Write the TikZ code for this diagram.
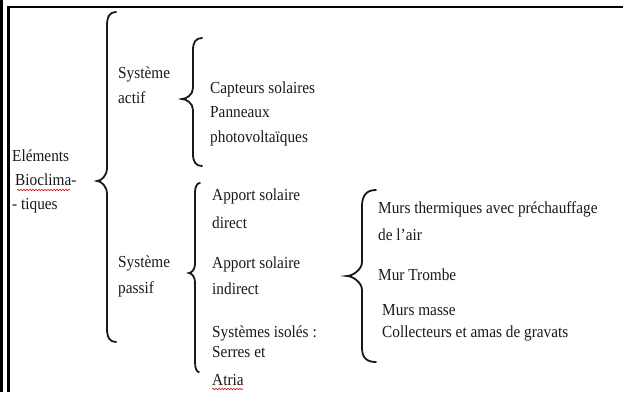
\documentclass[tikz,border=0pt]{standalone}
\usepackage{fontspec}
\setmainfont{Liberation Serif}
\usetikzlibrary{decorations.pathmorphing}
\begin{document}
\begin{tikzpicture}[x=1pt,y=-1pt,
  lbl/.style={anchor=base west, inner sep=0pt, yscale=1.1, transform shape, text=black!90, font=\fontsize{15.3}{18}\selectfont},
  bracepath/.style={line width=1.8pt, line cap=round, black!90},
  spell/.style={red!85!black, line width=0.6pt, decorate, decoration={snake, amplitude=0.7pt, segment length=3pt}}]
\useasboundingbox (0,0) rectangle (623,392);
% frame
\fill[black] (0,0) rectangle (2.8,392);
\draw[line width=2.6pt] (8.6,392) -- (8.6,7) -- (623,7);
% level 0
\node[lbl] (e1) at (12,161) {Eléments};
\node[lbl] (e2) at (15,185) {Bioclima-};
\node[lbl] (e3) at (12,209) {- tiques};
\draw[spell] (17,190) -- (70,190);
% brace 1
\draw[bracepath] (116,12) .. controls (110,12) and (107,16) .. (107,26) -- (107,168)
  .. controls (107,176) and (101,181) .. (97,181) .. controls (101,181) and (107,186) .. (107,194)
  -- (107,328) .. controls (107,338) and (110,342) .. (116,342);
% level 1
\node[lbl] (sa1) at (118,78) {Système};
\node[lbl] (sa2) at (118,103) {actif};
\node[lbl] (sp1) at (118,267) {Système};
\node[lbl] (sp2) at (118,293) {passif};
% brace 2
\draw[bracepath] (202,38) .. controls (196,38) and (193,42) .. (193,50) -- (193,88)
  .. controls (193,95) and (186,99) .. (182,99) .. controls (186,99) and (193,103) .. (193,110)
  -- (193,154) .. controls (193,162) and (196,166) .. (202,166);
% brace 3
\draw[bracepath] (200,183) .. controls (197,183) and (195,186) .. (195,194) -- (195,264)
  .. controls (195,270) and (191,273) .. (189,273) .. controls (191,273) and (195,276) .. (195,282)
  -- (195,362) .. controls (195,369) and (197,372) .. (199,372);
% level 2
\node[lbl] (c1) at (210,93) {Capteurs solaires};
\node[lbl] (c2) at (210,117) {Panneaux};
\node[lbl] (c3) at (210,142) {photovoltaïques};
\node[lbl] (p1) at (212,200) {Apport solaire};
\node[lbl] (p2) at (212,228) {direct};
\node[lbl] (p3) at (212,268) {Apport solaire};
\node[lbl] (p4) at (212,294) {indirect};
\node[lbl] (p5) at (212,337) {Systèmes isolés :};
\node[lbl] (p6) at (212,357) {Serres et};
\node[lbl] (p7) at (212,385) {Atria};
\draw[spell] (212,389) -- (243,389);
% brace 4
\draw[bracepath] (376,190) .. controls (367,190) and (362,195) .. (362,206) -- (362,262)
  .. controls (362,270) and (352,276) .. (347,276) .. controls (352,276) and (362,282) .. (362,290)
  -- (362,348) .. controls (362,358) and (367,362) .. (376,362);
% level 3
\node[lbl] (m1) at (378,213) {Murs thermiques avec préchauffage};
\node[lbl] (m2) at (378,240) {de l’air};
\node[lbl] (m3) at (378,280) {Mur Trombe};
\node[lbl] (m4) at (382,315) {Murs masse};
\node[lbl] (m5) at (382,337) {Collecteurs et amas de gravats};
\end{tikzpicture}
\end{document}
